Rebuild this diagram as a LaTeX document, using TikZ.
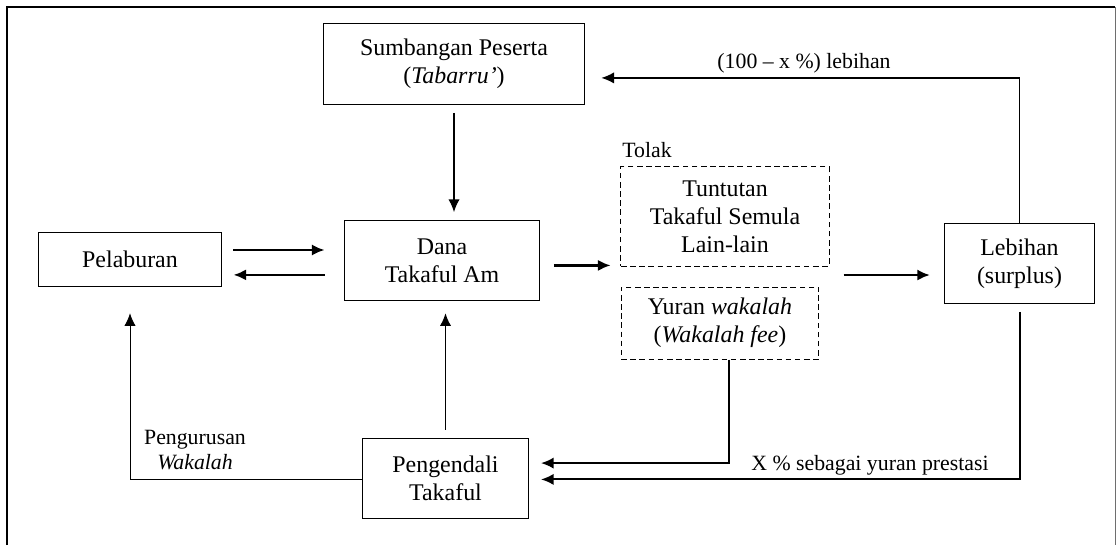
\documentclass[tikz,border=0pt]{standalone}
\usepackage{fontspec}
\setmainfont{Liberation Serif}
\usepackage{tikz}
\usetikzlibrary{arrows.meta,positioning}
\definecolor{lngrey}{RGB}{110,110,110}
\tikzstyle{box} = [draw, line width=0.7pt, align=center, inner sep=2pt, font=\fontsize{17}{20}\selectfont]
\tikzstyle{dbox} = [box, dash pattern=on 4pt off 2.5pt]
\tikzstyle{lbl} = [font=\fontsize{15.5}{17.7}\selectfont, align=center]
\tikzstyle{arrow} = [line width=0.9pt,-{Latex[length=9pt,width=8pt]}]
\tikzstyle{thickarrow} = [arrow, line width=1.8pt]

\begin{document}
\begin{tikzpicture}[x=0.025cm, y=-0.025cm]
    \useasboundingbox (0,0) rectangle (1116,545);
    % Frame
    \draw[line width=2pt] (7,545) -- (7,7) -- (1115,7);
    \draw[lngrey, line width=0.6pt] (1115,7) -- (1115,545);

    % Boxes
    \node[box, minimum width=6.5cm, minimum height=2cm] (sumbangan) at (454,64) {Sumbangan Peserta\\(\textit{Tabarru’})};
    \node[box, minimum width=4.86cm, minimum height=1.975cm] (dana) at (442,260.5) {Dana\\Takaful Am};
    \node[box, minimum width=4.55cm, minimum height=1.35cm] (pelaburan) at (130,259) {Pelaburan};
    \node[dbox, minimum width=5.2cm, minimum height=2.475cm] (tuntutan) at (725,216.5) {Tuntutan\\Takaful Semula\\Lain-lain};
    \node[dbox, minimum width=4.94cm, minimum height=1.8cm] (yuran) at (720,323) {Yuran \textit{wakalah}\\(\textit{Wakalah fee})};
    \node[box, minimum width=3.75cm, minimum height=1.975cm] (lebihan) at (1019.5,263.5) {Lebihan\\(surplus)};
    \node[box, minimum width=4.15cm, minimum height=2cm] (pengendali) at (445.5,478) {Pengendali\\Takaful};

    % Arrows
    \draw[arrow, shorten <=6pt, shorten >=6pt] (sumbangan.south) -- (sumbangan.south |- dana.north);
    \draw[thickarrow, shorten <=8.5pt, shorten >=14pt] ([yshift=6.4pt]pelaburan.east) -- ([yshift=6.4pt]pelaburan.east -| dana.west);
    \draw[thickarrow, shorten <=14pt, shorten >=8.5pt] ([yshift=-11.3pt]pelaburan.east -| dana.west) -- ([yshift=-11.3pt]pelaburan.east);
    \draw[thickarrow, shorten <=10pt, shorten >=7pt] ([yshift=-3.5pt]dana.east) -- ([yshift=-3.5pt]dana.east -| tuntutan.west);
    \draw[thickarrow, shorten <=10pt, shorten >=10pt] ([yshift=-8.2pt]lebihan.west -| tuntutan.east) -- ([yshift=-8.2pt]lebihan.west);
    \draw[arrow, shorten >=12pt] (lebihan.north) |- ([yshift=-9.9pt]sumbangan.east);
    \draw[arrow, line width=1.4pt, shorten <=6pt, shorten >=8.5pt] (lebihan.south) |- ([yshift=-1pt]pengendali.east);
    \draw[arrow, line width=1.4pt, shorten >=8.5pt] ([xshift=6.5pt]yuran.south) |- ([yshift=10.6pt]pengendali.east);
    \draw[arrow, line width=1.2pt, shorten <=5.5pt, shorten >=9pt] (pengendali.north) -- (pengendali.north |- dana.south);
    \draw[arrow, line width=0.7pt, shorten >=19pt] ([yshift=-1.4pt]pengendali.west) -| (pelaburan.south);

    % Labels
    \node[lbl] (lebihanlbl) at (804,63) {(100 -- x \%) lebihan};
    \node[lbl] (tolak) at (647,150) {Tolak};
    \node[lbl] (prestasi) at (870,465) {X \% sebagai yuran prestasi};
    \node[lbl] (pengurusan) at (195,450) {Pengurusan\\\textit{Wakalah}};
\end{tikzpicture}
\end{document}
